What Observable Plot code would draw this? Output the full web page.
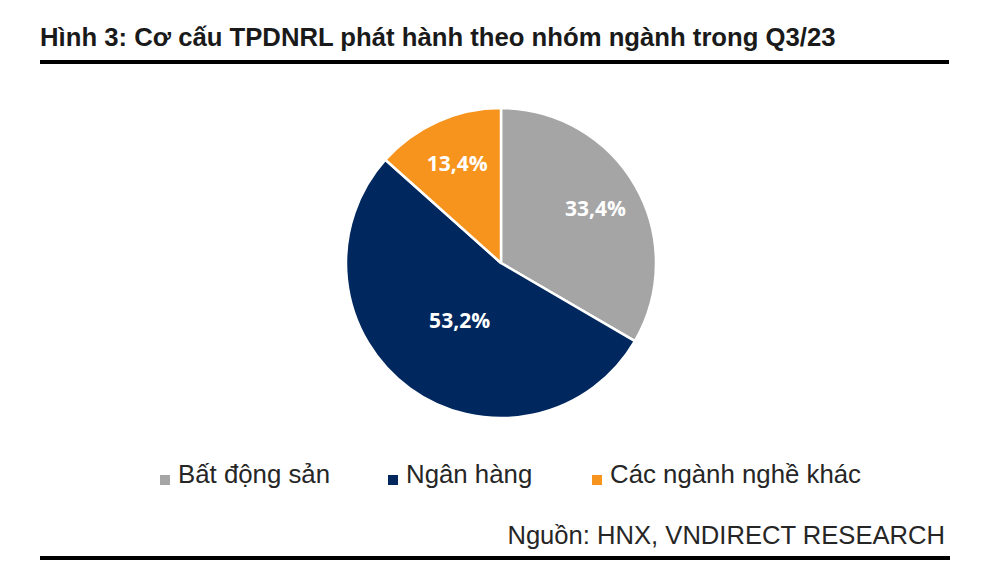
<!DOCTYPE html>
<html>
<head>
<meta charset="utf-8">
<script src="https://cdn.jsdelivr.net/npm/d3@7"></script>
<script src="https://cdn.jsdelivr.net/npm/@observablehq/plot@0.6"></script>
<style>
  html, body { margin: 0; padding: 0; background: #fff; }
  #page { position: relative; width: 1000px; height: 577px; overflow: hidden; font-family: "Liberation Sans", Arial, sans-serif; }
  .title { position: absolute; left: 40px; top: 24px; font-size: 25.7px; line-height: 26px; font-weight: bold; color: #1a1a1a; white-space: nowrap; }
  .rule { position: absolute; background: #000; }
  #chart { position: absolute; left: 0; top: 90px; }
  .leg { position: absolute; top: 461px; font-size: 25.8px; line-height: 26px; color: #262626; white-space: nowrap; }
  .sw { position: absolute; top: 14px; width: 10px; height: 10px; }
  .source { position: absolute; right: 55px; top: 522px; font-size: 25.6px; line-height: 26px; color: #262626; white-space: nowrap; }
</style>
</head>
<body>
<div id="page">
  <div class="title">Hình 3: Cơ cấu TPDNRL phát hành theo nhóm ngành trong Q3/23</div>
  <div class="rule" style="left:40px; top:60px; width:909px; height:4px;"></div>
  <div id="chart"></div>
  <div id="legend"></div>
  <div class="source">Nguồn: HNX, VNDIRECT RESEARCH</div>
  <div class="rule" style="left:40px; top:556px; width:910px; height:4px;"></div>
</div>
<script>
const categories = ["Bất động sản", "Ngân hàng", "Các ngành nghề khác"];
const shares = [33.4, 53.2, 13.4];

const palette = ["#A5A5A5", "#00285E", "#F7941D"];

const rows = categories.map((c, i) => ({category: c, value: shares[i], color: palette[i]}));
const arcs = d3.pie().sort(null).value(d => d.value)(rows);

// label positions in unit-circle coordinates (derived from the pie angles)
const labels = arcs.map(a => {
  const mid = (a.startAngle + a.endAngle) / 2;
  const frac = a.data.value > 50 ? 0.46 : 0.7;
  return {
    x: Math.sin(mid) * frac,
    y: Math.cos(mid) * frac,
    text: a.data.value.toFixed(1).replace(".", ",") + "%"
  };
});

function pieMark(index, scales, values, dimensions) {
  const cx = scales.x(0), cy = scales.y(0);
  const r = scales.x(1) - scales.x(0);
  const arcGen = d3.arc().innerRadius(0).outerRadius(r);
  const g = d3.create("svg:g").attr("transform", `translate(${cx},${cy})`);
  g.selectAll("path")
    .data(arcs)
    .join("path")
    .attr("d", arcGen)
    .attr("fill", d => d.data.color)
    .attr("stroke", "#fff")
    .attr("stroke-width", 2.5)
    .attr("stroke-linejoin", "round");
  return g.node();
}

const plot = Plot.plot({
  width: 1000,
  height: 350,
  marginLeft: 346,
  marginRight: 344,
  marginTop: 18,
  marginBottom: 22,
  x: {domain: [-1, 1], axis: null},
  y: {domain: [-1, 1], axis: null},
  marks: [
    pieMark,
    Plot.text(labels, {
      x: "x", y: "y", text: "text",
      fill: "#fff", fontSize: 21, fontWeight: "bold",
      fontFamily: "Open Sans"
    })
  ]
});
document.getElementById("chart").appendChild(plot);

// legend
const legX = [160, 388, 592];
const leg = document.getElementById("legend");
categories.forEach((c, i) => {
  const item = document.createElement("div");
  item.className = "leg";
  item.style.left = legX[i] + "px";
  item.style.paddingLeft = "18px";
  const sw = document.createElement("span");
  sw.className = "sw";
  sw.style.left = "0px";
  sw.style.background = palette[i];
  item.appendChild(sw);
  item.appendChild(document.createTextNode(c));
  leg.appendChild(item);
});
</script>
</body>
</html>
